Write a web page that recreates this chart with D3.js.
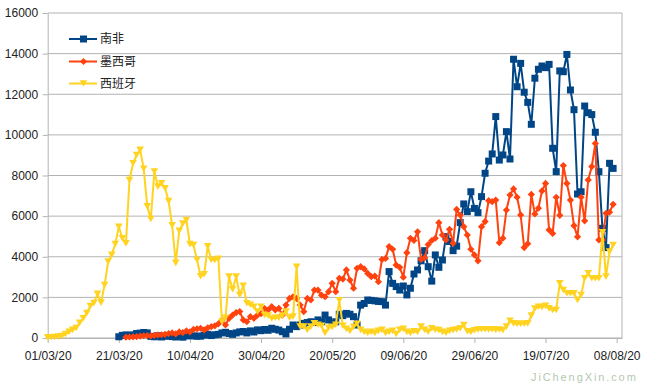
<!DOCTYPE html>
<html><head><meta charset="utf-8">
<script src="https://cdn.jsdelivr.net/npm/d3@7"></script>
<style>body{margin:0;background:#fff}svg{display:block}</style>
</head><body>
<script>
// ---- data ----
const startDate = "01/03/20";
const tickLabels = ["01/03/20","21/03/20","10/04/20","30/04/20","20/05/20","09/06/20","29/06/20","19/07/20","08/08/20"];
const yTicks = [0,2000,4000,6000,8000,10000,12000,14000,16000];
const seriesNames = ["南非","墨西哥","西班牙"];
const seriesColors = ["#004586","#ff420e","#ffd320"];

const southAfricaStart = 20; // days after startDate
const southAfrica = [60,130,150,130,150,220,240,270,250,80,60,110,50,90,100,70,50,90,40,100,
  130,100,90,90,140,180,120,160,180,250,280,220,180,250,300,320,250,350,300,400,360,420,380,480,
  430,390,310,200,430,640,560,640,720,760,800,760,890,800,1130,890,720,800,1170,1100,1210,1170,1050,640,1620,1700,1870,1850,1830,1800,1790,1620,
  3270,2690,2530,2360,2560,2120,2450,3150,3350,3800,4300,3510,2800,4090,3480,3840,4990,4750,4300,4520,5680,6600,6220,7200,6380,6170,6960,8110,8710,9060,10900,8760,
  9010,10160,8810,13720,12370,13520,12100,11600,10520,12790,13230,13390,13310,13470,9340,8190,13150,13110,13960,12210,11240,7090,7200,11420,11090,11000,10130,8190,5400,4450,8600,8350];

const mexicoStart = 22;
const mexico = [40,50,60,70,90,110,120,100,130,150,160,180,220,250,200,300,260,350,300,420,450,480,400,500,560,600,700,880,640,970,1130,1250,1300,890,800,1050,970,1130,1200,1450,1380,1540,
  1380,1460,1130,1620,1950,2030,1950,1620,1300,1950,1870,2360,2360,2110,2030,2280,2690,2280,2940,2900,3350,2850,2450,3430,3510,3400,3180,3020,3050,2770,3870,3920,
  4500,4370,3590,3480,2990,4200,4910,4800,5230,3870,3950,4600,4800,4910,5680,5070,4830,5350,4660,6330,6050,5480,5070,4370,4090,3800,5480,5730,6760,6710,6790,4690,
  4910,6300,7040,7340,6930,6060,4450,4640,7070,6110,6390,7240,7610,5320,5150,6930,6040,8490,7610,6790,5530,4980,6930,5770,7780,8440,9580,4830,4830,6140,6190,6580];

const spainStart = 0;
const spain = [30,40,50,70,100,190,310,400,490,750,
  970,1230,1575,1720,2170,1740,2610,3760,4090,4630,
  5480,4910,4660,7780,8600,9010,9260,8330,6480,5860,
  8200,7450,7610,7370,6740,5550,3700,5280,5630,5810,
  4620,4580,3840,3040,3140,4510,3840,3840,3900,800,
  1000,3020,2400,3020,2120,2570,1710,1640,1540,1300,
  1540,1130,1100,960,1000,1000,1100,1300,1000,1050,
  3500,560,560,400,560,720,650,600,250,500,
  550,650,1850,600,450,350,550,700,400,300,
  250,300,250,350,400,250,300,350,200,400,
  450,300,250,330,300,560,400,310,480,400,
  390,300,260,350,390,420,480,640,330,300,
  380,420,430,430,420,430,400,420,
  390,560,850,720,700,700,700,720,1100,1450,1540,1520,1580,1460,1380,1380,2690,2360,2200,2200,2200,1870,2120,2940,3180,2940,2940,2940,5200,3020,4250,4580];

// ---- chart ----
const W = 650, H = 383;
const L = 47.7, R = 622, T = 13, B = 338;
const DAY = 864e5;
const parse = d3.utcParse("%d/%m/%y");
const fmt = d3.utcFormat("%d/%m/%y");
const t0 = parse(startDate);

const svg = d3.select("body").append("svg").attr("width", W).attr("height", H);
svg.append("rect").attr("width", W).attr("height", H).attr("fill", "#fff");

const x = d3.scaleUtc().domain([t0, new Date(+t0 + 161.5 * DAY)]).range([L, R]);
const y = d3.scaleLinear().domain([0, 16000]).range([B, T]);

// grid
svg.append("g").selectAll("line").data(yTicks).join("line")
  .attr("x1", L).attr("x2", R).attr("y1", d => y(d)).attr("y2", d => y(d))
  .attr("stroke", "#b3b3b3").attr("stroke-width", 1);
svg.append("line").attr("x1", R).attr("x2", R).attr("y1", y(16000)).attr("y2", y(0))
  .attr("stroke", "#b3b3b3");

// axes
const yAxis = svg.append("g").attr("transform", `translate(${L},0)`)
  .call(d3.axisLeft(y).tickValues(yTicks).tickSize(5).tickPadding(4.5).tickSizeOuter(0).tickFormat(d3.format("d")));
const xAxis = svg.append("g").attr("transform", `translate(0,${B})`)
  .call(d3.axisBottom(x).tickValues(tickLabels.map(parse)).tickSize(5).tickPadding(8).tickSizeOuter(0).tickFormat(fmt));
[yAxis, xAxis].forEach(g => {
  g.select(".domain").attr("stroke", "#b3b3b3");
  g.selectAll(".tick line").attr("stroke", "#b3b3b3");
  g.selectAll("text").attr("fill", "#222").style("font-family", "'Liberation Sans', Arial, sans-serif").style("font-size", "12px");
});

// markers
function marker(type, cx, cy) {
  if (type === 0) { const s = 3.5; return `M${cx-s},${cy-s}h${2*s}v${2*s}h${-2*s}Z`; }
  if (type === 1) { const s = 3.6; return `M${cx},${cy-s}L${cx+s},${cy}L${cx},${cy+s}L${cx-s},${cy}Z`; }
  const w = 3.8, h = 3.3; return `M${cx-w},${cy-h}L${cx+w},${cy-h}L${cx},${cy+h}Z`;
}

const series = [
  {name: seriesNames[0], start: southAfricaStart, values: southAfrica},
  {name: seriesNames[1], start: mexicoStart, values: mexico},
  {name: seriesNames[2], start: spainStart, values: spain}
];

const line = d3.line().x(d => x(d.date)).y(d => y(d.v));
series.forEach((s, i) => {
  const pts = s.values.map((v, k) => ({date: new Date(+t0 + (s.start + k) * DAY), v}));
  const g = svg.append("g");
  g.append("path").attr("d", line(pts)).attr("fill", "none").attr("stroke", seriesColors[i])
    .attr("stroke-width", 2).attr("stroke-linejoin", "round");
  g.selectAll("path.m").data(pts).join("path").attr("class", "m")
    .attr("d", d => marker(i, x(d.date), y(d.v))).attr("fill", seriesColors[i]);
});

// legend
const lg = svg.append("g");
const legendY = [39, 61.5, 83.5];
seriesNames.forEach((n, i) => {
  lg.append("line").attr("x1", 69).attr("x2", 97).attr("y1", legendY[i]).attr("y2", legendY[i])
    .attr("stroke", seriesColors[i]).attr("stroke-width", 2);
  lg.append("path").attr("d", marker(i, 83.5, legendY[i])).attr("fill", seriesColors[i]);
  lg.append("text").attr("x", 100).attr("y", legendY[i]).attr("dy", "0.36em")
    .style("font-family", "'Noto Sans CJK SC', sans-serif").style("font-size", "12px")
    .attr("fill", "#222").text(n);
});

// watermark text
svg.append("text").attr("x", 531).attr("y", 381).text("JiChengXin.com")
  .style("font-family", "'Liberation Sans', Arial, sans-serif").style("font-size", "11px")
  .style("letter-spacing", "1.9px").attr("fill", "#b4c8b0");
</script>
</body></html>
